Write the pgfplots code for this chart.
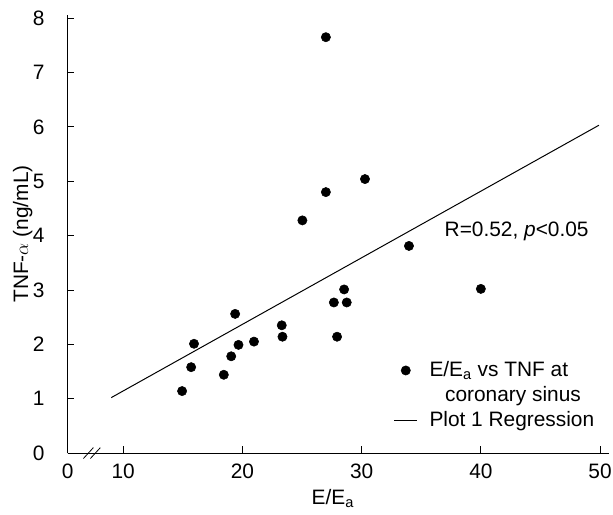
\documentclass[border=0pt]{standalone}
\usepackage{pgfplots}
\pgfplotsset{compat=1.18}
\usepackage{fontspec}
\setmainfont{Liberation Sans}
\usetikzlibrary{calc}

\begin{document}
\fontsize{15.75}{18.5}\selectfont
\begin{tikzpicture}
\begin{axis}[
  name=ax,
  scale only axis,
  width=408.75pt, height=330.75pt,
  xmin=5.3333, xmax=50.75,
  ymin=0, ymax=8.06,
  axis lines*=left,
  axis line style={line width=0.75pt},
  xtick={5.3333,10,20,30,40,50},
  xticklabels={0,10,20,30,40,50},
  ytick={0,1,2,3,4,5,6,7,8},
  tick style={black, line width=0.6pt},
  major tick length=5pt,
  tick align=inside,
  /pgf/number format/assume math mode=true,
  font=\fontsize{15.75}{18.5}\selectfont,
  xticklabel style={yshift=-3pt},
  yticklabel style={xshift=-12pt},
  xlabel={E/E\textsubscript{a}},
  ylabel={TNF-$\alpha$ (ng/mL)},
  xlabel style={at={(axis description cs:0.49,-0.1043)}, anchor=center},
  ylabel style={at={(axis description cs:-0.0826,0.5)}, anchor=center},
  clip=false,
  legend style={draw=none, fill=none, at={(0.595,0.222)}, anchor=north west,
    font=\fontsize{15.75}{18.5}\selectfont, row sep=1pt, column sep=7pt},
  legend cell align=left,
]
\addplot[only marks, mark=*, mark size=3.5pt, black] coordinates {
  (14.94,1.14) (15.70,1.58) (15.94,2.01) (18.44,1.44) (19.06,1.78)
  (19.39,2.56) (19.67,1.99) (20.97,2.05) (23.30,2.35) (23.36,2.14)
  (25.03,4.28) (27.00,7.65) (27.00,4.80) (27.67,2.77) (27.94,2.14)
  (28.53,3.01) (28.75,2.77) (30.28,5.04) (33.97,3.81) (40.00,3.02)
};
\addlegendentry{E/E\textsubscript{a} vs TNF at}
\addlegendimage{empty legend}
\addlegendentry{\hspace{0.75em}coronary sinus}
\addplot[black, line width=0.75pt, no marks] coordinates {(9.0,1.02) (49.9,6.03)};
\addlegendentry{Plot 1 Regression}

\node[anchor=center] at (axis cs:43,4.07) {R=0.52, \textit{p}<0.05};

% axis break
\draw[line width=0.6pt] (axis cs:7.083,0) ++(-3.75pt,-4.1pt) -- ++(7.5pt,8.2pt);
\draw[line width=0.6pt] (axis cs:7.667,0) ++(-3.75pt,-4.1pt) -- ++(7.5pt,8.2pt);
\end{axis}
\pgfresetboundingbox
\path ($(ax.south west)+(-51pt,-46.5pt)$) rectangle ($(ax.north east)+(3pt,11.25pt)$);
\end{tikzpicture}
\end{document}
